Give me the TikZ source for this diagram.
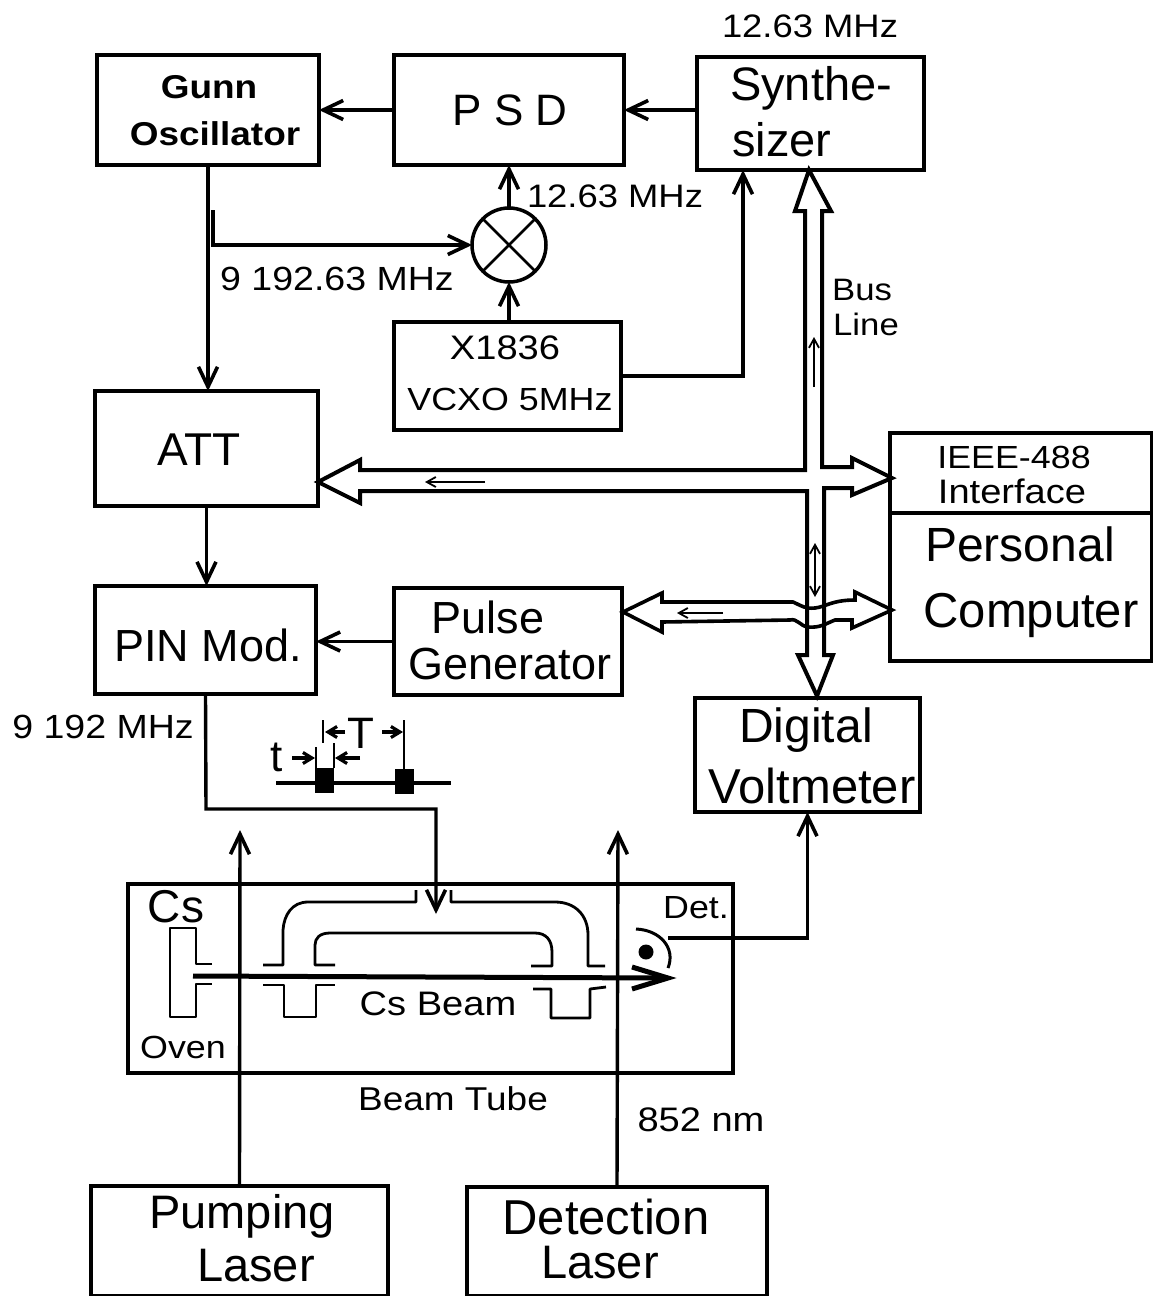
\documentclass[tikz,border=0pt]{standalone}
\usepackage{fontspec}
\setmainfont{Liberation Sans}
\newfontfamily\widefam[FakeStretch=1.12]{Liberation Sans}
\usetikzlibrary{arrows.meta,calc}
\newcommand{\fs}[1]{\fontsize{#1}{#1}\selectfont}
\newcommand{\fw}[1]{\widefam\fontsize{#1}{#1}\selectfont}
\tikzset{
  boxn/.style={draw,line width=3.5pt,rectangle,inner sep=0pt,outer sep=0pt,line join=miter},
  lbl/.style={inner sep=0pt,outer sep=0pt,anchor=center},
  sig/.style={line width=3.4pt,-{Straight Barb[length=20pt,width=19pt,line width=3.6pt]}},
  busl/.style={line width=4pt,line join=miter,fill=white},
  thin arrow/.style={line width=1.8pt,-{Straight Barb[length=9pt,width=10pt,line width=1.8pt]}},
  thin both/.style={line width=1.8pt,{Straight Barb[length=9pt,width=10pt,line width=1.8pt]}-{Straight Barb[length=9pt,width=10pt,line width=1.8pt]}},
  tube/.style={line width=2.8pt,line join=round},
  mark tip/.style={line width=3.2pt,-{Straight Barb[length=9pt,width=11pt,line width=3.2pt]}}
}
\begin{document}
\begin{tikzpicture}[x=1pt,y=-1pt]
\useasboundingbox (0,0) rectangle (1153,1296);
% boxes
\node[boxn,minimum width=222pt,minimum height=110pt] (gunn) at (208,110) {};
\node[boxn,minimum width=230pt,minimum height=110pt] (psd) at (509,110) {};
\node[boxn,minimum width=227pt,minimum height=113pt] (synth) at (810.5,113.5) {};
\node[boxn,circle,minimum size=74pt] (mixer) at (509,245) {};
\draw[line width=2.8pt] (mixer.45) -- (mixer.225) (mixer.135) -- (mixer.315);
\node[boxn,minimum width=227pt,minimum height=108pt] (vcxo) at (507.5,376) {};
\node[boxn,minimum width=223pt,minimum height=115pt] (att) at (206.5,448.5) {};
\node[boxn,minimum width=221pt,minimum height=108pt] (pin) at (205.5,640) {};
\node[boxn,minimum width=228pt,minimum height=107pt] (pulse) at (508,641.5) {};
\node[boxn,minimum width=225pt,minimum height=114pt] (dvm) at (807.5,755) {};
\node[boxn,minimum width=262pt,minimum height=80pt] (ieee) at (1021,473) {};
\node[boxn,minimum width=262pt,minimum height=148pt] (pc) at (1021,587) {};
\node[boxn,minimum width=605pt,minimum height=189pt] (tubebox) at (430.5,978.5) {};
\node[boxn,minimum width=297pt,minimum height=110pt] (pump) at (239.5,1241) {};
\node[boxn,minimum width=300pt,minimum height=109pt] (detl) at (617,1241.5) {};
% box labels
\node[lbl,font=\fw{33}\bfseries] (t1) at (209,87) {Gunn};
\node[lbl,font=\fw{33}\bfseries] (t2) at (215,134) {Oscillator};
\node[lbl,font=\fs{44}] (t3) at (510,110) {P S D};
\node[lbl,font=\fs{47}] (t4) at (811,88) {Synthe-};
\node[lbl,font=\fs{47}] (t5) at (782,140) {sizer};
\node[lbl,font=\fw{32.5}] (t6) at (810,26) {12.63 MHz};
\node[lbl,font=\fw{32.5}] (t7) at (615,196) {12.63 MHz};
\node[lbl,font=\fw{33.5}] (t8) at (337,279) {9 192.63 MHz};
\node[lbl,font=\fw{34}] (t9) at (505,348) {X1836};
\node[lbl,font=\fw{32}] (t10) at (510,399) {VCXO 5MHz};
\node[lbl,font=\fs{46}] (t11) at (199,450) {ATT};
\node[lbl,font=\fw{32}] (t12) at (1014,457) {IEEE-488};
\node[lbl,font=\fw{34}] (t13) at (1012,491) {Interface};
\node[lbl,font=\fs{48}] (t14) at (1020,544) {Personal};
\node[lbl,font=\fs{49}] (t15) at (1031,615) {Computer};
\node[lbl,font=\fs{45}] (t16) at (488,617) {Pulse};
\node[lbl,font=\fs{45}] (t17) at (510,664) {Generator};
\node[lbl,font=\fs{45}] (t18) at (208,645) {PIN Mod.};
\node[lbl,font=\fw{33.5}] (t19) at (103,727) {9 192 MHz};
\node[lbl,font=\fs{48}] (t20) at (806,730) {Digital};
\node[lbl,font=\fs{49}] (t21) at (812,786) {Voltmeter};
\node[lbl,font=\fw{31}] (t22) at (862,290) {Bus};
\node[lbl,font=\fw{31}] (t23) at (866,324) {Line};
\node[lbl,font=\fs{46}] (t24) at (176,907) {Cs};
\node[lbl,font=\fw{32}] (t25) at (183,1047) {Oven};
\node[lbl,font=\fw{32}] (t26) at (696,908) {Det.};
\node[lbl,font=\fw{34}] (t27) at (438,1004) {Cs Beam};
\node[lbl,font=\fw{33}] (t28) at (453,1099) {Beam Tube};
\node[lbl,font=\fs{47}] (t29) at (242,1216) {Pumping};
\node[lbl,font=\fs{47}] (t30) at (256,1266) {Laser};
\node[lbl,font=\fs{49}] (t31) at (606,1217) {Detection};
\node[lbl,font=\fs{47}] (t32) at (600,1263) {Laser};
\node[lbl,font=\fw{34}] (t33) at (701,1120) {852 nm};
\node[lbl,font=\fs{44}] (t34) at (361,733) {T};
\node[lbl,font=\fs{44}] (t35) at (277,757) {t};
% signal connectors
\draw[sig] (psd.west) -- (gunn.east);
\draw[sig] (synth.west |- psd.east) -- (psd.east);
\draw[sig] (mixer.north) -- (mixer.north |- psd.south);
\draw[sig] (mixer.south |- vcxo.north) -- (mixer.south);
\coordinate (branch) at (213,210);
\draw[sig] (branch) |- (mixer.west);
\coordinate (synthin) at (743,170);
\draw[sig] (vcxo.east) -| (synthin);
\draw[sig] (gunn.south) -- (gunn.south |- att.north);
\draw[sig] (att.south) -- (att.south |- pin.north);
\draw[sig] (pulse.west) -- (pulse.west -| pin.east);
% PIN output
\coordinate (rfin) at (436,914);
\coordinate (rf1) at (206,809);
\draw[sig] (pin.south) -- (rf1) -- (436,809) -- (rfin);
% laser arrows
\coordinate (pumptip) at (240,830);
\coordinate (dettip) at (618,830);
\draw[sig] (pump.north) -- (pumptip);
\draw[sig] (detl.north) -- (dettip);
% detector out
\coordinate (detout) at (668,938);
\draw[sig] (detout) -| (dvm.south);
% bus: main cross-shaped double arrow
\draw[busl] (809,170) -- (831,211) -- (822,211) -- (822,467) -- (852,467) -- (852,458) -- (892,478)
  -- (852,495) -- (852,488) -- (824,488) -- (824,655) -- (833,655) -- (817,696) -- (798,655)
  -- (807,655) -- (807,491) -- (360,491) -- (360,503) -- (318,482) -- (360,460) -- (360,470)
  -- (805,470) -- (805,211) -- (795,211) -- cycle;
% bus: pulse-generator double arrow
\draw[line width=3.6pt,line join=miter] (793,602) .. controls (802,606) and (805,609) .. (815,608)
  .. controls (825,607) and (832,600) .. (855,600) -- (855,592) -- (892,610) -- (852,628) -- (852,620)
  -- (835,620) .. controls (825,624) and (820,628) .. (808,627) .. controls (800,626) and (797,618) .. (790,620)
  -- (662,622) -- (662,632) -- (623,612) -- (662,593) -- (662,602) -- cycle;
% small direction arrows
\draw[thin arrow] (814,387) -- (814,337);
\draw[thin both] (815,543) -- (815,597);
\draw[thin arrow] (485,482) -- (425,482);
\draw[thin arrow] (723,613) -- (677,613);
% pulse sketch
\draw[line width=4pt] (276,783) -- (451,783);
\fill (315,768) rectangle (334,793);
\fill (395,769) rectangle (414,794);
\draw[line width=2.2pt] (316,768) -- (316,747) (334,768) -- (334,743);
\draw[line width=2.2pt] (323,720) -- (323,743) (404,720) -- (404,769);
\draw[mark tip] (345,732) -- (325,732);
\draw[mark tip] (382,732) -- (403,732);
\draw[mark tip] (292,758) -- (315,758);
\draw[mark tip] (360,758) -- (335,758);
% oven
\draw[tube] (212,964) -- (196,964) -- (196,928) -- (170,928) -- (170,1017) -- (196,1017) -- (196,984) -- (212,984);
% cavity
\draw[tube] (263,965) -- (283,965) -- (283,930) .. controls (284,915) and (292,902) .. (308,902) -- (416,902) -- (416,890);
\draw[tube] (451,890) -- (451,902) -- (555,902) .. controls (575,902) and (588,915) .. (588,935) -- (588,966) -- (605,966);
\draw[tube] (335,965) -- (315,965) -- (315,945) .. controls (315,938) and (320,933) .. (330,933) -- (535,933) .. controls (546,933) and (552,940) .. (552,952) -- (552,966) -- (531,966);
\draw[tube] (263,985) -- (284,985) -- (284,1017) -- (316,1017) -- (316,985) -- (335,985);
\draw[tube] (533,989) -- (551,989) -- (551,1018) -- (590,1018) -- (590,989) -- (606,987);
% beam
\draw[line width=5pt,line join=miter] (193,976) -- (664,978);
\draw[line width=5pt,line join=miter] (632,967) -- (668,978) -- (632,989);
% detector
\fill (646,952) circle (7.5pt);
\draw[line width=3pt] (636,929) .. controls (660,930) and (676,948) .. (668,968);
\end{tikzpicture}
\end{document}
